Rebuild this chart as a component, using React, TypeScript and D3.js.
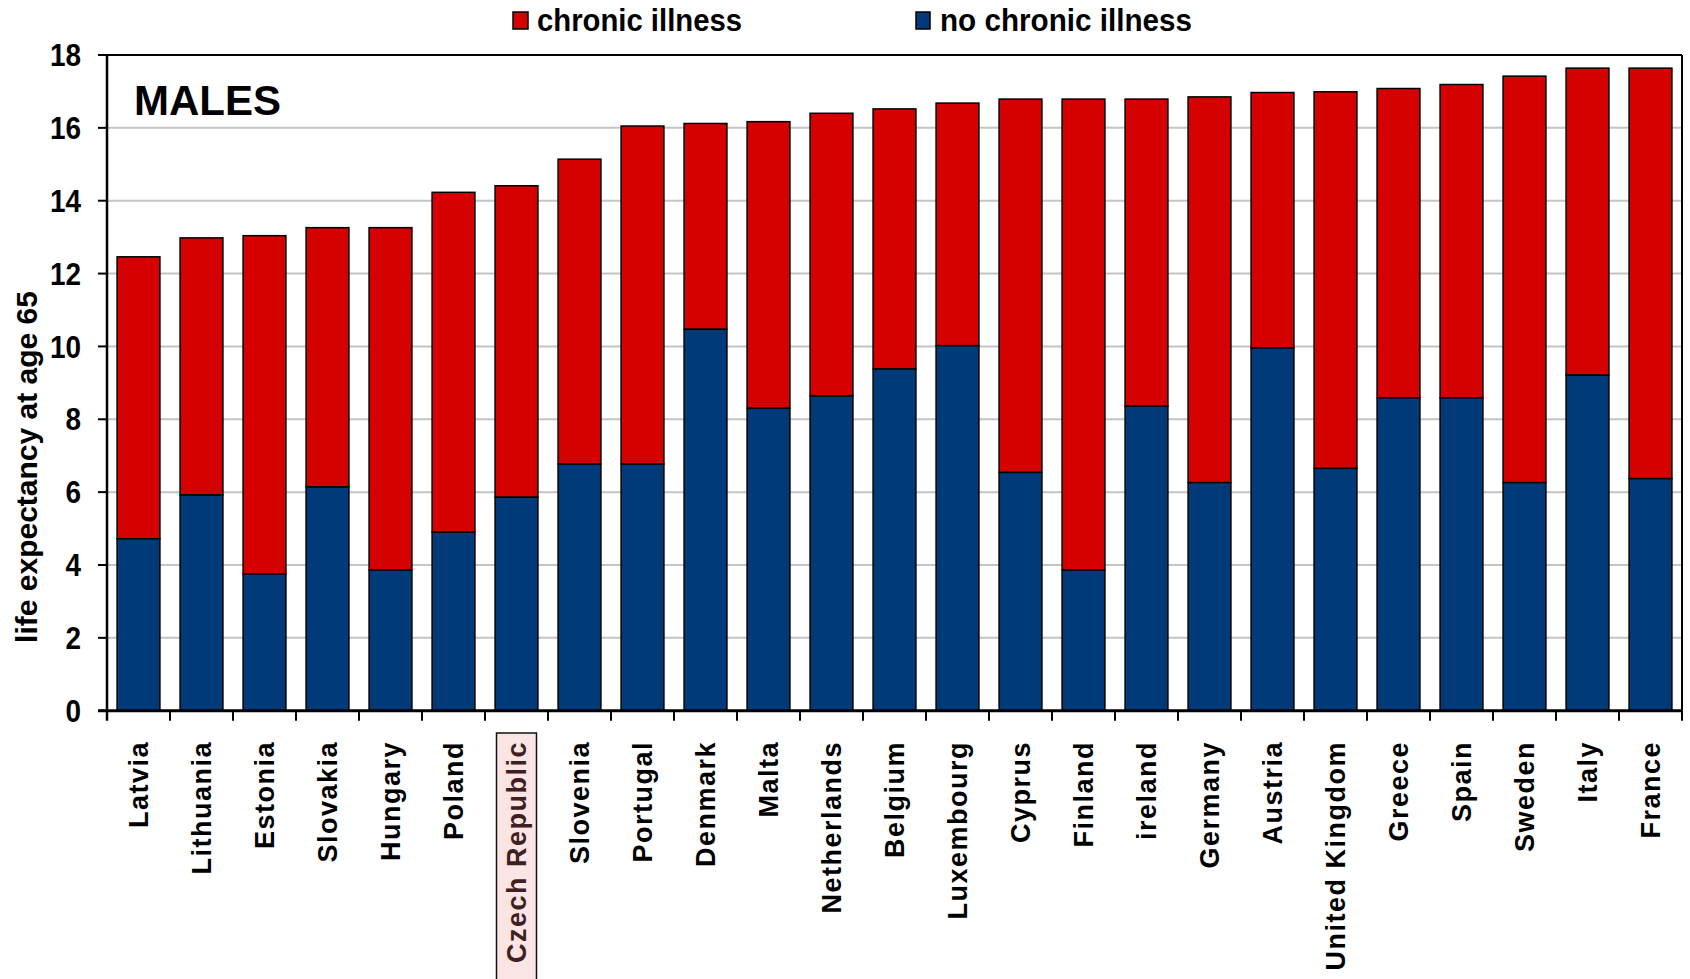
import * as d3 from 'd3';

const countries = [
  'Latvia', 'Lithuania', 'Estonia', 'Slovakia', 'Hungary', 'Poland', 'Czech Republic',
  'Slovenia', 'Portugal', 'Denmark', 'Malta', 'Netherlands', 'Belgium', 'Luxembourg',
  'Cyprus', 'Finland', 'ireland', 'Germany', 'Austria', 'United Kingdom', 'Greece',
  'Spain', 'Sweden', 'Italy', 'France',
];

// years without chronic illness (blue, bottom)
const noChronic = [
  4.72, 5.92, 3.75, 6.14, 3.86, 4.9, 5.86, 6.77, 6.77, 10.47, 8.3, 8.64, 9.38, 10.02,
  6.54, 3.86, 8.36, 6.26, 9.96, 6.65, 8.59, 8.59, 6.26, 9.21, 6.37,
];

// total life expectancy at 65 (top of stacked bar)
const totals = [
  12.46, 12.98, 13.04, 13.26, 13.26, 14.23, 14.41, 15.14, 16.05, 16.12, 16.17, 16.4, 16.52,
  16.68, 16.79, 16.79, 16.79, 16.85, 16.97, 16.99, 17.08, 17.19, 17.42, 17.64, 17.64,
];

const yTicks = [0, 2, 4, 6, 8, 10, 12, 14, 16, 18];
const highlighted = 'Czech Republic';

const RED = '#d50000';
const BLUE = '#003a78';
const FONT = 'Arial, "Liberation Sans", Helvetica, sans-serif';

export default function App() {
  const width = 1690;
  const height = 979;
  const left = 107;
  const right = 1682;
  const top = 55;
  const bottom = 710.7;

  const x = d3.scaleBand<string>().domain(countries).range([left, right]).paddingInner(0.32).paddingOuter(0.16);
  const y = d3.scaleLinear().domain([0, 18]).range([bottom, top]);
  const step = x.step();

  const rows = countries.map((c, i) => ({
    country: c,
    healthy: noChronic[i],
    chronic: totals[i] - noChronic[i],
    total: totals[i],
  }));

  const hx = x(highlighted)! + x.bandwidth() / 2;

  return (
    <svg
      width={width}
      height={height}
      style={{ position: 'absolute', left: 0, top: 0, background: '#fff' }}
      fontFamily={FONT}
    >
      {/* gridlines */}
      {yTicks.filter(t => t > 0 && t < 18).map(t => (
        <line key={t} x1={left} x2={right} y1={y(t)} y2={y(t)} stroke="#c4c4c4" strokeWidth={2} />
      ))}

      {/* Czech Republic label background */}
      <rect x={hx - 20} y={733} width={40} height={260} fill="#fbe4e4" stroke="#111" strokeWidth={1.5} />

      {/* bars */}
      {rows.map(d => (
        <g key={d.country}>
          <rect
            x={x(d.country)}
            y={y(d.total)}
            width={x.bandwidth()}
            height={y(d.healthy) - y(d.total)}
            fill={RED}
            stroke="#000"
            strokeWidth={1.5}
          />
          <rect
            x={x(d.country)}
            y={y(d.healthy)}
            width={x.bandwidth()}
            height={y(0) - y(d.healthy)}
            fill={BLUE}
            stroke="#000"
            strokeWidth={1.5}
          />
        </g>
      ))}

      {/* frame */}
      <line x1={left - 9} x2={right} y1={top} y2={top} stroke="#000" strokeWidth={2} />
      <line x1={right} x2={right} y1={top} y2={bottom} stroke="#000" strokeWidth={2} />
      <line x1={left} x2={left} y1={top} y2={bottom + 10} stroke="#000" strokeWidth={2.5} />
      <line x1={left - 9} x2={right} y1={bottom} y2={bottom} stroke="#000" strokeWidth={3} />

      {/* y ticks */}
      {yTicks.map(t => (
        <g key={t}>
          <line x1={left - 9} x2={left} y1={y(t)} y2={y(t)} stroke="#000" strokeWidth={2} />
          <text
            transform={`translate(81,${y(t)}) scale(0.9,1)`}
            dy="0.36em"
            textAnchor="end"
            fontSize={31}
            fontWeight="bold"
          >
            {t}
          </text>
        </g>
      ))}

      {/* x ticks at band boundaries */}
      {countries.map((c, i) => (
        <line
          key={c}
          x1={left + step * (i + 1)}
          x2={left + step * (i + 1)}
          y1={bottom}
          y2={bottom + 10}
          stroke="#000"
          strokeWidth={2}
        />
      ))}

      {/* x labels */}
      {countries.map(c => {
        const cx = x(c)! + x.bandwidth() / 2;
        return (
          <text
            key={c}
            transform={`translate(${cx},741) rotate(-90)`}
            dy="0.36em"
            textAnchor="end"
            fontSize={27}
            fontWeight="bold"
            letterSpacing={1.5}
            fill={c === highlighted ? '#3f2020' : '#000'}
          >
            {c}
          </text>
        );
      })}

      {/* y axis title */}
      <text
        transform="translate(37,467) rotate(-90)"
        textAnchor="middle"
        fontSize={30}
        fontWeight="bold"
      >
        life expectancy at age 65
      </text>

      {/* panel label */}
      <text x={134} y={115} fontSize={42} fontWeight="bold">MALES</text>

      {/* legend */}
      <rect x={513} y={12} width={15} height={17} fill={RED} stroke="#000" strokeWidth={1.5} />
      <text x={537} y={31} fontSize={31} fontWeight="bold" textLength={205} lengthAdjust="spacingAndGlyphs">chronic illness</text>
      <rect x={916} y={12} width={14} height={17} fill={BLUE} stroke="#000" strokeWidth={1.5} />
      <text x={940} y={31} fontSize={31} fontWeight="bold" textLength={252} lengthAdjust="spacingAndGlyphs">no chronic illness</text>
    </svg>
  );
}
